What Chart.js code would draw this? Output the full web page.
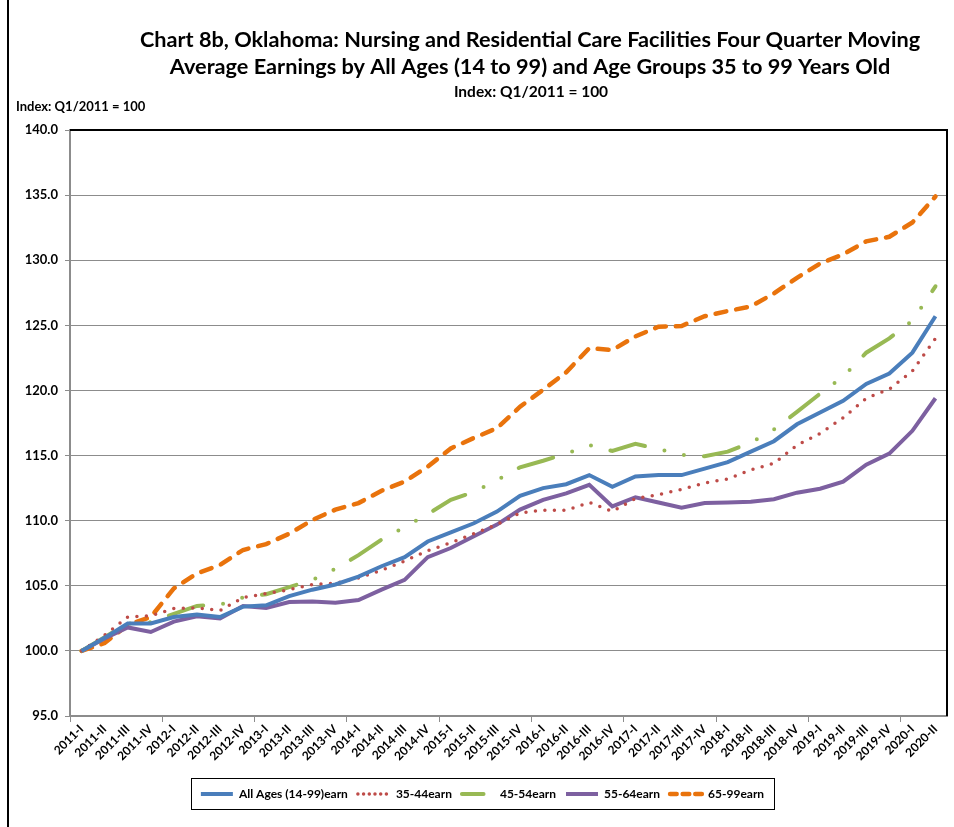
<!DOCTYPE html>
<html>
<head>
<meta charset="utf-8">
<script src="https://cdn.jsdelivr.net/npm/chart.js@4.4.1/dist/chart.umd.min.js"></script>
<style>
  html, body { margin: 0; padding: 0; background: #fff; }
  canvas { display: block; }
</style>
</head>
<body>
<canvas id="chart" width="954" height="827"></canvas>
<script>
const quarters = [
  "2011-I", "2011-II", "2011-III", "2011-IV",
  "2012-I", "2012-II", "2012-III", "2012-IV",
  "2013-I", "2013-II", "2013-III", "2013-IV",
  "2014-I", "2014-II", "2014-III", "2014-IV",
  "2015-I", "2015-II", "2015-III", "2015-IV",
  "2016-I", "2016-II", "2016-III", "2016-IV",
  "2017-I", "2017-II", "2017-III", "2017-IV",
  "2018-I", "2018-II", "2018-III", "2018-IV",
  "2019-I", "2019-II", "2019-III", "2019-IV",
  "2020-I", "2020-II"
];

const allAges = [100.0, 101.0, 102.1, 102.1, 102.6, 102.8, 102.6, 103.4, 103.5, 104.2, 104.7, 105.1,
  105.7, 106.5, 107.2, 108.4, 109.1, 109.8, 110.7, 111.9, 112.5, 112.8, 113.5, 112.6,
  113.4, 113.5, 113.5, 114.0, 114.5, 115.3, 116.1, 117.4, 118.3, 119.2, 120.5, 121.3, 122.9, 125.7];

const age3544 = [100.0, 101.2, 102.6, 102.7, 103.25, 103.3, 103.1, 104.1, 104.4, 104.7, 105.1, 105.2,
  105.6, 106.2, 106.9, 107.7, 108.3, 109.0, 109.7, 110.6, 110.8, 110.8, 111.4, 110.7,
  111.7, 112.0, 112.4, 112.9, 113.2, 113.9, 114.4, 115.8, 116.7, 117.9, 119.4, 120.1, 121.5, 124.0];

const age4554 = [100.0, 101.05, 102.1, 102.2, 102.85, 103.45, 103.55, 104.1, 104.35, 104.9, 105.45, 106.3,
  107.35, 108.55, 109.5, 110.5, 111.6, 112.2, 113.1, 114.1, 114.6, 115.15, 115.8, 115.35,
  115.9, 115.5, 115.05, 114.95, 115.3, 116.0, 117.0, 118.35, 119.75, 121.05, 122.9, 124.0, 125.35, 128.0];

const age5564 = [100.0, 100.95, 101.8, 101.45, 102.25, 102.65, 102.5, 103.45, 103.3, 103.75, 103.8, 103.7,
  103.9, 104.7, 105.45, 107.2, 107.9, 108.8, 109.7, 110.85, 111.6, 112.1, 112.75, 111.1,
  111.8, 111.4, 111.0, 111.35, 111.4, 111.45, 111.65, 112.15, 112.45, 113.0, 114.3, 115.15, 116.9, 119.4];

const age6599 = [100.0, 100.6, 102.0, 102.6, 104.8, 105.95, 106.6, 107.75, 108.2, 109.0, 110.05, 110.85,
  111.35, 112.3, 113.0, 114.15, 115.55, 116.35, 117.1, 118.75, 120.05, 121.4, 123.25, 123.1,
  124.15, 124.9, 124.95, 125.7, 126.1, 126.45, 127.45, 128.65, 129.75, 130.45, 131.45, 131.8, 132.9, 134.9];

const seriesNames = ["All Ages (14-99)earn", "35-44earn", "45-54earn", "55-64earn", "65-99earn"];

const titleLines = [
  "Chart 8b, Oklahoma: Nursing and Residential Care Facilities Four Quarter Moving",
  "Average Earnings by All Ages (14 to 99) and Age Groups 35 to 99 Years Old"
];
const subTitle = "Index: Q1/2011 = 100";
const axisNote = "Index: Q1/2011 = 100";

const FONT = "Lato, Calibri, 'Liberation Sans', sans-serif";
const gridGray = "#8c8c8c";

// titles, left note, frame line, legend box, plot border
const decorations = {
  id: "decorations",
  afterLayout(chart) {
    // nudge the legend a bit right, like the original
    const lg = chart.legend;
    const dx = 9;
    lg.left += dx;
    lg.right += dx;
    (lg.legendHitBoxes || []).forEach(b => { b.left += dx; });
  },
  afterDraw(chart) {
    const { ctx, chartArea, legend } = chart;
    ctx.save();
    ctx.fillStyle = "#000";
    ctx.textAlign = "center";
    ctx.textBaseline = "middle";
    ctx.font = "bold 21.7px " + FONT;
    ctx.fillText(titleLines[0], 530, 40);
    ctx.fillText(titleLines[1], 530, 67);
    ctx.font = "bold 15.5px " + FONT;
    ctx.fillText(subTitle, 531, 92);
    ctx.textAlign = "left";
    ctx.font = "bold 13px " + FONT;
    ctx.fillText(axisNote, 16, 107);

    ctx.strokeStyle = "#000";
    ctx.lineWidth = 2;
    ctx.beginPath();
    ctx.moveTo(8, 0);
    ctx.lineTo(8, chart.height);
    ctx.stroke();

    ctx.beginPath();
    ctx.moveTo(chartArea.left, chartArea.top);
    ctx.lineTo(chartArea.right, chartArea.top);
    ctx.lineTo(chartArea.right, chartArea.bottom);
    ctx.stroke();

    const boxes = legend.legendHitBoxes;
    if (boxes && boxes.length) {
      const l = Math.min(...boxes.map(b => b.left)) - 10;
      const r = Math.max(...boxes.map(b => b.left + b.width)) + 10;
      ctx.lineWidth = 1;
      ctx.strokeRect(Math.round(l) + 0.5, legend.top + 0.5, Math.round(r - l), legend.height - 1);
    }
    ctx.restore();
  }
};

const ctx = document.getElementById("chart").getContext("2d");

new Chart(ctx, {
  type: "line",
  data: {
    labels: quarters,
    datasets: [
      {
        label: seriesNames[0],
        data: allAges,
        borderColor: "#4a7ebb",
        borderWidth: 4,
      },
      {
        label: seriesNames[1],
        data: age3544,
        borderColor: "#be4b48",
        borderWidth: 3.5,
        borderDash: [0, 9.5],
        borderCapStyle: "round",
      },
      {
        label: seriesNames[2],
        data: age4554,
        borderColor: "#98b954",
        borderWidth: 4,
        borderDash: [36, 20, 0, 20, 0, 20],
        borderCapStyle: "round",
      },
      {
        label: seriesNames[3],
        data: age5564,
        borderColor: "#7d60a0",
        borderWidth: 4,
      },
      {
        label: seriesNames[4],
        data: age6599,
        borderColor: "#e9730c",
        borderWidth: 4.5,
        borderDash: [11, 10],
        borderCapStyle: "round",
      },
    ],
  },
  options: {
    responsive: false,
    animation: false,
    devicePixelRatio: 1,
    layout: { padding: { top: 130, right: 7, bottom: 17, left: 0 } },
    elements: {
      point: { radius: 0 },
      line: { tension: 0, fill: false },
    },
    scales: {
      x: {
        offset: true,
        grid: {
          offset: true,
          drawOnChartArea: false,
          drawTicks: true,
          tickLength: 6,
          lineWidth: 1,
          color: (c) => (c.index % 4 === 0 ? gridGray : "rgba(0,0,0,0)"),
        },
        border: { display: true, color: gridGray, width: 2 },
        ticks: {
          autoSkip: false,
          minRotation: 45,
          maxRotation: 45,
          padding: 0,
          color: "#000",
          font: { family: FONT, size: 12, weight: "bold" },
        },
        afterFit(scale) { scale.height = 62; },
      },
      y: {
        min: 95,
        max: 140,
        grid: { color: gridGray, lineWidth: 1, tickLength: 5 },
        border: { display: true, color: gridGray, width: 2 },
        ticks: {
          stepSize: 5,
          padding: 7,
          color: "#000",
          font: { family: FONT, size: 13, weight: "bold" },
          callback: (v) => Number(v).toFixed(1),
        },
        afterFit(scale) { scale.width = 70; },
      },
    },
    plugins: {
      title: { display: false },
      tooltip: { enabled: false },
      legend: {
        position: "bottom",
        labels: {
          usePointStyle: true,
          pointStyleWidth: 32,
          padding: 10,
          color: "#000",
          font: { family: FONT, size: 12, weight: "bold" },
          generateLabels(chart) {
            return chart.data.datasets.map((ds, i) => ({
              text: ds.label,
              datasetIndex: i,
              fillStyle: ds.borderColor,
              strokeStyle: ds.borderColor,
              lineWidth: ds.borderWidth,
              lineDash: ds.borderDash ? ds.borderDash.map(d => d * 0.6) : [],
              lineCap: ds.borderCapStyle || "butt",
              pointStyle: "line",
              hidden: false,
            }));
          },
        },
      },
    },
  },
  plugins: [decorations],
});
</script>
</body>
</html>
